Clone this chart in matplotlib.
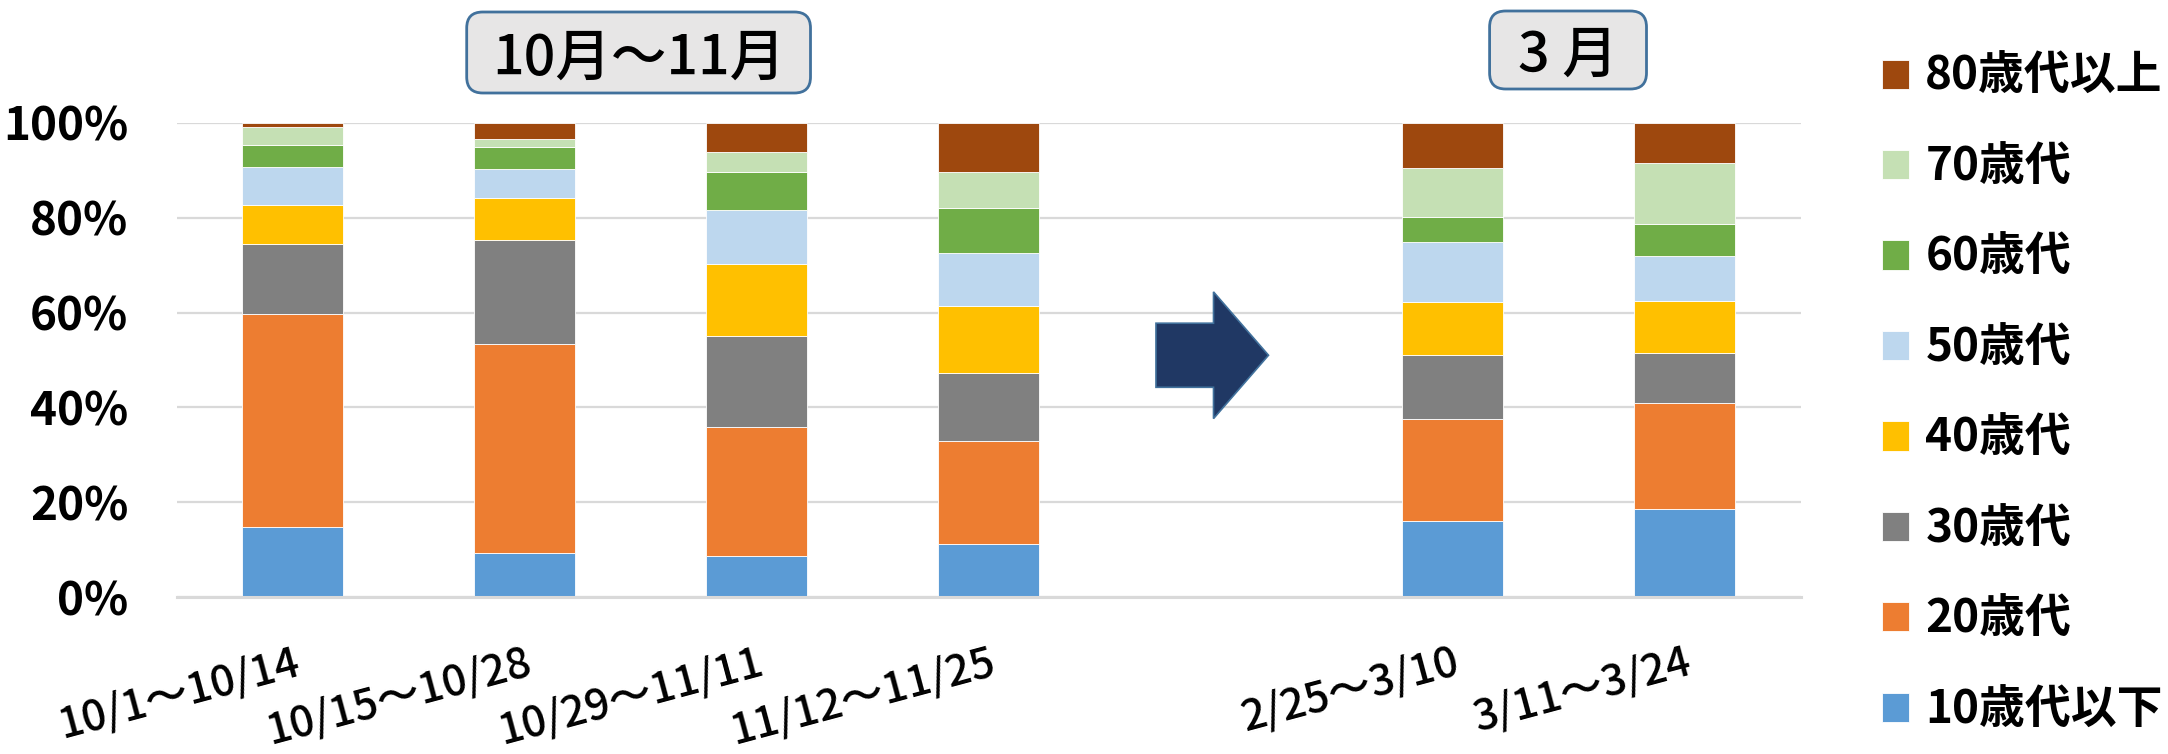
import numpy as np
import matplotlib
matplotlib.use("Agg")
import matplotlib.pyplot as plt
from matplotlib.patches import FancyBboxPatch, FancyArrow

plt.rcParams['font.family'] = ['Noto Sans CJK JP', 'DejaVu Sans']

# 期間ラベル
periods = ["10/1～10/14", "10/15～10/28", "10/29～11/11", "11/12～11/25",
           "2/25～3/10", "3/11～3/24"]

# 年代別の割合 (%)
age_groups = ["10歳代以下", "20歳代", "30歳代", "40歳代",
              "50歳代", "60歳代", "70歳代", "80歳代以上"]
teens = [14.8, 9.3, 8.6, 11.2, 16.0, 18.7]
twenties = [44.8, 44.0, 27.3, 21.7, 21.6, 22.2]
thirties = [14.8, 22.0, 19.2, 14.3, 13.4, 10.6]
forties = [8.3, 8.8, 15.2, 14.2, 11.2, 10.9]
fifties = [8.0, 6.1, 11.4, 11.2, 12.7, 9.5]
sixties = [4.7, 4.7, 8.0, 9.4, 5.2, 6.7]
seventies = [3.6, 1.7, 4.1, 7.6, 10.4, 13.0]
eighties = [1.0, 3.4, 6.2, 10.4, 9.5, 8.4]

group_titles = ["10月～11月", "3 月"]

colors = ["#5B9BD5", "#ED7D31", "#808080", "#FFC000",
          "#BDD7EE", "#70AD47", "#C5E0B4", "#9E480E"]

series = [teens, twenties, thirties, forties, fifties, sixties, seventies, eighties]

# 10-11月の4本と3月の2本の間に1本分の空きを入れる
positions = np.r_[np.arange(4), np.arange(4, 6) + 1]

fig = plt.figure(figsize=(21.68, 7.54), dpi=100)
ax = fig.add_axes([0.0816, 0.2078, 0.7491, 0.6295])

bottom = np.zeros(len(periods))
for vals, color, label in zip(series, colors, age_groups):
    vals = np.array(vals) / 100.0
    ax.bar(positions, vals, width=0.435, bottom=bottom, color=color,
           edgecolor="white", linewidth=0.6, label=label, zorder=3)
    bottom += vals

ax.set_xlim(-0.5, 6.5)
ax.set_ylim(0, 1.0)
ax.set_yticks(np.arange(0, 1.01, 0.2))
ax.set_yticklabels([f"{int(round(v * 100))}%" for v in np.arange(0, 1.01, 0.2)],
                   fontsize=33, fontweight="bold")
ax.set_xticks(positions)
ax.set_xticklabels(periods, fontsize=31, fontweight="medium", rotation=15,
                   ha="right", va="top", rotation_mode="anchor")
ax.tick_params(axis="y", length=0, pad=35)
ax.tick_params(axis="x", length=0, pad=31)

ax.grid(axis="y", color="#D9D9D9", linewidth=1.6, zorder=0)
for side in ["top", "right", "left"]:
    ax.spines[side].set_visible(False)
ax.spines["bottom"].set_color("#D9D9D9")
ax.spines["bottom"].set_linewidth(2.2)
ax.spines["bottom"].set_zorder(4)

# 右向き矢印
arrow = FancyArrow(3.72, 0.51, 0.485, 0, width=0.135, head_width=0.267,
                   head_length=0.237, length_includes_head=True,
                   facecolor="#203864", edgecolor="#41719C", linewidth=1.2,
                   zorder=3)
ax.add_patch(arrow)

# グループ見出しの枠
boxes = [(4.667, 6.61, 3.438, 0.81), (14.896, 6.65, 1.569, 0.78)]
for (bx, by, bw, bh), title in zip(boxes, group_titles):
    patch = FancyBboxPatch((bx, by), bw, bh,
                           boxstyle="round,pad=0,rounding_size=0.16",
                           transform=fig.dpi_scale_trans,
                           facecolor="#E7E6E6", edgecolor="#41719C",
                           linewidth=2.0)
    fig.add_artist(patch)
    fig.text(bx + bw / 2, by + bh / 2, title, transform=fig.dpi_scale_trans,
             ha="center", va="center_baseline", fontsize=40,
             fontweight="medium")

handles, labels = ax.get_legend_handles_labels()
leg = fig.legend(handles[::-1], labels[::-1], loc="upper left",
                 bbox_to_anchor=(0.868, 0.928), frameon=False,
                 prop={"size": 33, "weight": "bold"},
                 handlelength=0.6, handleheight=0.6, handletextpad=0.35,
                 labelspacing=0.97, borderpad=0, borderaxespad=0)

fig.savefig("out.png", dpi=100)
